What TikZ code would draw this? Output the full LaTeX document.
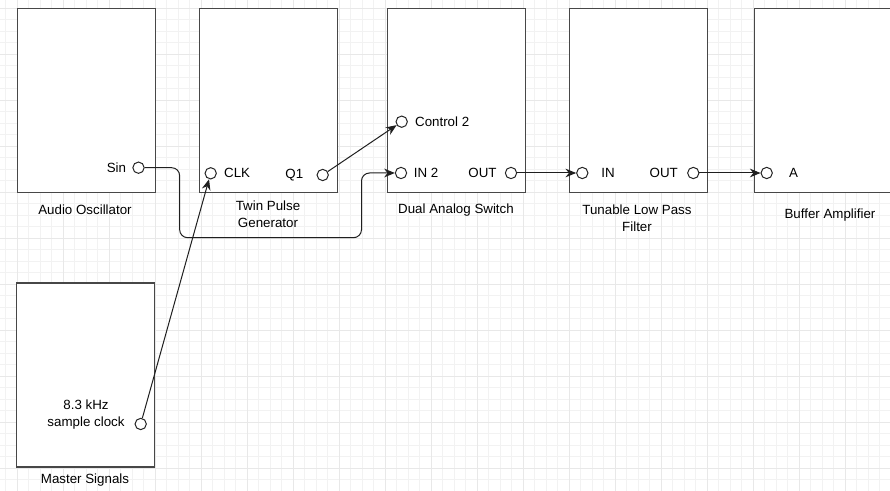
\documentclass[tikz,border=0pt]{standalone}
\usepackage{fontspec}
\setmainfont{Liberation Sans}
\usetikzlibrary{arrows.meta,positioning}

\begin{document}
\begin{tikzpicture}[x=0.75pt,y=-0.75pt,
            every node/.style = {font=\fontsize{10}{12.5}\selectfont},
            block/.style = {draw=black!72, line width=1.1pt, fill=white, anchor=north west,
                minimum width=103.5pt, minimum height=138pt, inner sep=0pt},
            port/.style = {draw=black!85, circle, fill=white, line width=0.75pt,
                minimum size=8.5pt, inner sep=0pt},
            tag/.style = {inner sep=0pt},
            title/.style = {align=center, inner sep=0pt},
            wire/.style = {draw=black!88, line width=0.75pt, -{Stealth[length=8pt,width=6.5pt]}}
            ]
            \useasboundingbox (0,0) rectangle (890,491);
            \fill[white] (0,0) rectangle (890,491);
            \foreach \gx in {5.5,17,...,890}
                \draw[black!5, line width=0.6pt] (\gx,0) -- (\gx,491);
            \foreach \gy in {8,19.5,...,491}
                \draw[black!5, line width=0.6pt] (0,\gy) -- (890,\gy);
            \foreach \gx in {17,63,...,890}
                \draw[black!9, line width=0.7pt] (\gx,0) -- (\gx,491);
            \foreach \gy in {8,54,...,491}
                \draw[black!9, line width=0.7pt] (0,\gy) -- (890,\gy);

            \node[block] (osc) at (17,8) {};
            \node[block] (pulse) at (199,8) {};
            \node[block] (switch) at (387,8) {};
            \node[block] (filter) at (569,8) {};
            \node[block] (buffer) at (754,8) {};
            \node[block] (master) at (16,282.5) {};

            \node[title] at (85,210) {Audio Oscillator};
            \node[title] at (268,214) {Twin Pulse\\Generator};
            \node[title] at (456,210) {Dual Analog Switch};
            \node[title] at (637,218) {Tunable Low Pass\\Filter};
            \node[title] at (830,215) {Buffer Amplifier};
            \node[title] at (85,480) {Master Signals};

            \node[port] (sin) at (138.5,167.7) {};
            \node[port] (clk) at (210.7,173.3) {};
            \node[port] (q1) at (322.7,175) {};
            \node[port] (ctrl) at (401.7,121.7) {};
            \node[port] (in2) at (401,173) {};
            \node[port] (swout) at (511,173) {};
            \node[port] (lpin) at (582.3,173) {};
            \node[port] (lpout) at (693.3,173) {};
            \node[port] (ain) at (766.7,173) {};
            \node[port] (sclk) at (140.7,424) {};

            \node[tag, left=4.5pt of sin] {Sin};
            \node[tag, right=5.25pt of clk] {CLK};
            \node[tag, left=9.75pt of q1] {Q1};
            \node[tag, right=5.25pt of ctrl] {Control 2};
            \node[tag, right=4.9pt of in2] {IN 2};
            \node[tag, left=6pt of swout] {OUT};
            \node[tag, right=9.5pt of lpin] {IN};
            \node[tag, left=6.75pt of lpout] {OUT};
            \node[tag, right=12pt of ain] {A};
            \node[title] at (86,414.7) {8.3 kHz\\sample clock};

            \draw[wire, rounded corners=6pt] (sin.east) -- ++(35,0) -- ++(0,70)
                -| ([xshift=-25pt]in2.west) -- (in2.west);
            \draw[wire] (q1) -- (ctrl);
            \draw[wire] (sclk) -- (clk);
            \draw[wire] (swout) -- (lpin);
            \draw[wire] (lpout) -- (ain);
        \end{tikzpicture}
\end{document}
